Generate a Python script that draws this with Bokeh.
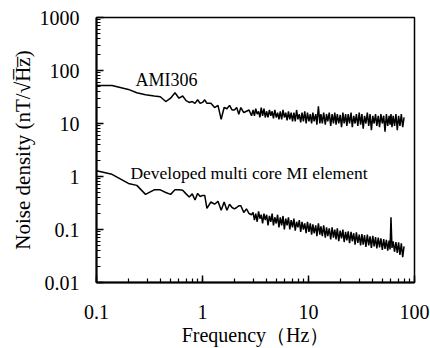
from bokeh.plotting import figure
from bokeh.models import Range1d, Label, LogTicker, CustomJSTickFormatter
from bokeh.embed import file_html
from bokeh.resources import INLINE

# Frequency grid (Hz)
freq = [
    0.10, 0.14, 0.20, 0.24, 0.29, 0.35, 0.40, 0.45, 0.50, 0.55,
    0.60, 0.65, 0.70, 0.75, 0.80, 0.85, 0.90, 0.95, 1.00, 1.05,
    1.10, 1.20, 1.30, 1.40, 1.50, 1.60, 1.70, 1.80, 1.90, 2.00,
    2.10, 2.20, 2.30, 2.45, 2.60, 2.75, 2.90,
    3.00, 3.09, 3.18, 3.28, 3.38, 3.48, 3.58, 3.69, 3.80, 3.91,
    4.03, 4.15, 4.28, 4.41, 4.54, 4.67, 4.81, 4.96, 5.11, 5.26,
    5.42, 5.58, 5.75, 5.92, 6.10, 6.28, 6.47, 6.66, 6.86, 7.07,
    7.28, 7.50, 7.72, 7.95, 8.19, 8.44, 8.69, 8.95, 9.22, 9.50,
    9.78, 10.1, 10.4, 10.7, 11.0, 11.3, 11.7, 12.0, 12.4, 12.8,
    13.1, 13.5, 13.9, 14.4, 14.8, 15.2, 15.7, 16.2, 16.7, 17.2,
    17.7, 18.2, 18.7, 19.3, 19.9, 20.5, 21.1, 21.7, 22.4, 23.0,
    23.7, 24.4, 25.2, 25.9, 26.7, 27.5, 28.3, 29.2, 30.1, 31.0,
    31.9, 32.8, 33.8, 34.8, 35.9, 37.0, 38.1, 39.2, 40.4, 41.6,
    42.9, 44.1, 45.5, 46.8, 48.2, 49.7, 51.2, 52.7, 54.3, 55.9,
    57.6, 58.8, 60.0, 61.3, 62.9, 64.8, 66.8, 68.8, 70.8, 72.9,
    75.1, 77.4, 79.7,
]

# AMI306 noise density (nT/sqrt(Hz))
ami306 = [
    52, 52, 44, 38, 35, 33, 32, 26, 30, 38,
    30, 33, 27, 25, 26, 24, 28, 24, 25, 28,
    24, 24, 20, 22, 12, 20, 19, 22, 18, 18,
    20, 15, 20, 16, 17, 18, 14,
    18, 14, 19, 15, 17, 13, 20, 14, 19, 13,
    17, 13, 18, 14, 17, 12.5, 18, 13, 16, 12,
    17, 12, 18, 13, 16, 11.5, 17, 12, 16, 11,
    16, 11, 18, 12, 15, 10.5, 16, 11, 17, 10,
    16, 11, 15, 10, 16, 11, 15, 9.5, 21, 10,
    15, 10, 16, 9.5, 15, 11, 16, 9, 15, 10,
    16, 9.5, 15, 10, 14.5, 8.5, 16, 10, 15, 9,
    15, 10, 16, 8.5, 14, 10, 15, 9, 16, 9.5,
    15, 8, 14, 10, 16, 9, 15, 7.5, 14, 10,
    15, 9, 14, 8.5, 15, 10, 14, 7, 15, 9,
    14, 9.5, 15, 8.5, 14, 9, 15, 7.5, 14, 9,
    15, 8.5, 13,
]

# Developed multi core MI element noise density (nT/sqrt(Hz))
developed = [
    1.28, 1.10, 0.74, 0.68, 0.46, 0.56, 0.56, 0.50, 0.46, 0.56,
    0.56, 0.55, 0.47, 0.41, 0.47, 0.36, 0.48, 0.42, 0.44, 0.44,
    0.25, 0.33, 0.30, 0.34, 0.23, 0.33, 0.23, 0.30, 0.26, 0.245,
    0.26, 0.28, 0.28, 0.21, 0.245, 0.20, 0.19,
    0.21, 0.15, 0.20, 0.14, 0.22, 0.16, 0.19, 0.13, 0.20, 0.15,
    0.19, 0.12, 0.18, 0.14, 0.20, 0.12, 0.17, 0.13, 0.19, 0.11,
    0.17, 0.12, 0.18, 0.10, 0.16, 0.12, 0.17, 0.10, 0.15, 0.11,
    0.16, 0.095, 0.14, 0.11, 0.15, 0.09, 0.14, 0.10, 0.13, 0.085,
    0.14, 0.09, 0.13, 0.08, 0.125, 0.085, 0.12, 0.075, 0.13, 0.08,
    0.115, 0.075, 0.12, 0.07, 0.11, 0.075, 0.105, 0.065, 0.11, 0.07,
    0.10, 0.065, 0.105, 0.06, 0.095, 0.068, 0.10, 0.058, 0.09, 0.062,
    0.092, 0.055, 0.09, 0.06, 0.085, 0.052, 0.088, 0.056, 0.08, 0.05,
    0.082, 0.052, 0.078, 0.047, 0.08, 0.05, 0.074, 0.045, 0.076, 0.048,
    0.072, 0.044, 0.07, 0.046, 0.068, 0.041, 0.066, 0.043, 0.064, 0.04,
    0.062, 0.042, 0.17, 0.045, 0.06, 0.038, 0.058, 0.036, 0.057, 0.033,
    0.055, 0.030, 0.048,
]

FONT = "Liberation Serif"

p = figure(width=430, height=348,
           x_axis_type="log", y_axis_type="log",
           x_range=Range1d(0.1, 100), y_range=Range1d(0.01, 1000),
           output_backend="svg", toolbar_location=None,
           min_border_left=96, min_border_right=16,
           min_border_top=17, min_border_bottom=66,
           background_fill_color="white", border_fill_color="white")

p.line(freq, ami306, line_color="black", line_width=1.5)
p.line(freq, developed, line_color="black", line_width=1.5)

p.xgrid.visible = False
p.ygrid.visible = False
p.outline_line_color = "black"
p.outline_line_width = 1.5
p.outline_line_alpha = 1.0

fmt = CustomJSTickFormatter(code="return String(Number(tick.toPrecision(3)));")
for ax in (p.xaxis[0], p.yaxis[0]):
    ax.ticker = LogTicker(mantissas=[1], num_minor_ticks=10)
    ax.formatter = fmt
    ax.axis_line_width = 2
    ax.axis_line_color = "black"
    ax.major_tick_in = 7
    ax.major_tick_out = 0
    ax.minor_tick_in = 4
    ax.minor_tick_out = 0
    ax.major_tick_line_width = 1.5
    ax.minor_tick_line_width = 1.2
    ax.major_tick_line_color = "black"
    ax.minor_tick_line_color = "black"
    ax.major_label_text_font = FONT
    ax.major_label_text_font_size = "20px"
    ax.major_label_text_color = "black"
    ax.axis_label_text_font = FONT
    ax.axis_label_text_font_style = "normal"
    ax.axis_label_text_color = "black"

p.xaxis.axis_label_text_font_size = "20px"
p.yaxis.axis_label_text_font_size = "21px"
p.xaxis.axis_label = "Frequency\uff08Hz\uff09"
p.yaxis.axis_label = "Noise density (nT/\u221aH\u0305z\u0305)"
p.xaxis.major_label_standoff = 22
p.yaxis.major_label_standoff = 17
p.xaxis.axis_label_standoff = 2
p.yaxis.axis_label_standoff = 2

p.add_layout(Label(x=0.233, y=65.7, text="AMI306", text_font=FONT,
                   text_font_size="18px", text_baseline="middle",
                   text_color="black"))
p.add_layout(Label(x=0.209, y=1.14, text="Developed multi core MI element",
                   text_font=FONT, text_font_size="17.5px",
                   text_baseline="middle", text_color="black"))

open("out.html", "w").write(file_html(p, INLINE))
